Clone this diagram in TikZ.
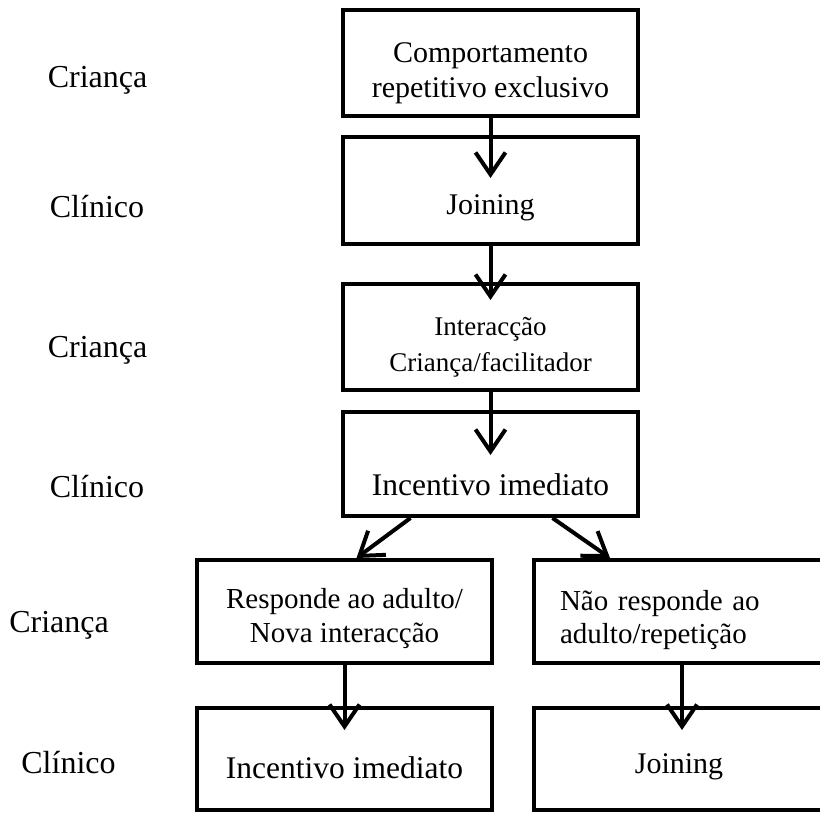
\documentclass[tikz,border=0pt]{standalone}
\usepackage{fontspec}
\setmainfont{Liberation Serif}
\usetikzlibrary{arrows.meta,calc}

\begin{document}
\begin{tikzpicture}[x=1pt,y=-1pt,
  box/.style={draw, line width=4pt, inner sep=0pt, align=center,
    font=\fontsize{30}{35}\selectfont},
  role/.style={anchor=base, font=\fontsize{32}{36}\selectfont},
  flow/.style={line width=4pt, -{Straight Barb[length=22pt,width=30pt]}}
]
  \useasboundingbox (0,0) rectangle (820,812);

  % main column
  \node[box, minimum width=295pt, minimum height=106pt] (comp) at (490.5,63)
    {\rule{0pt}{41pt}Comportamento\\repetitivo exclusivo\rule[-8pt]{0pt}{8pt}};
  \node[box, minimum width=295pt, minimum height=107pt, text height=47pt, text depth=0pt] (join) at (490.5,190.5) {Joining};
  \node[box, minimum width=295pt, minimum height=106pt, font=\fontsize{27}{36}\selectfont] (inter) at (490.5,337)
    {\rule{0pt}{40pt}Interacção\\Criança/facilitador\rule[-8pt]{0pt}{8pt}};
  \node[box, minimum width=295pt, minimum height=104pt, text height=62pt, text depth=0pt,
    font=\fontsize{31.5}{36}\selectfont] (incent) at (490.5,464) {Incentivo imediato};

  % two branches
  \node[box, minimum width=295pt, minimum height=103pt, font=\fontsize{29}{34}\selectfont] (resp) at (344.5,611.5)
    {\rule{0pt}{35pt}Responde ao adulto/\\Nova interacção\rule[-8pt]{0pt}{8pt}};
  \node[box, minimum width=290pt, minimum height=103pt, align=left, text width=238pt, inner xsep=26pt,
    font=\fontsize{29}{33}\selectfont] (nresp) at (679,611.5)
    {\rule{0pt}{38pt}Não responde ao\\adulto/repetição\rule[-8pt]{0pt}{8pt}};
  \node[box, minimum width=295pt, minimum height=102pt, text height=38pt, text depth=0pt,
    font=\fontsize{31.5}{36}\selectfont] (incentL) at (344.5,759) {Incentivo imediato};
  \node[box, minimum width=290pt, minimum height=102pt, text height=28pt, text depth=0pt] (joinR) at (679,759) {Joining};

  % who acts
  \node[role] (r1) at (97.5,87) {Criança};
  \node[role] (r2) at (97,217) {Clínico};
  \node[role] (r3) at (97.5,357) {Criança};
  \node[role] (r4) at (97,497) {Clínico};
  \node[role] (r5) at (59,632) {Criança};
  \node[role] (r6) at (68.5,773) {Clínico};

  % arrows
  \draw[flow, shorten >=-43pt] (comp.south) -- (join.north);
  \draw[flow, shorten >=-18pt] (join.south) -- (inter.north);
  \draw[flow, shorten >=-45pt] (inter.south) -- (incent.north);
  \draw[flow] ($(incent.south)+(-80,0)$) -- ($(resp.north)+(12,0)$);
  \draw[flow] ($(incent.south)+(62,0)$) -- ($(nresp.north)+(-69,0)$);
  \draw[flow, shorten >=-24pt] (resp.south) -- (incentL.north);
  \draw[flow, shorten >=-24pt] ($(nresp.south)+(3,0)$) -- ($(joinR.north)+(3,0)$);
\end{tikzpicture}
\end{document}
